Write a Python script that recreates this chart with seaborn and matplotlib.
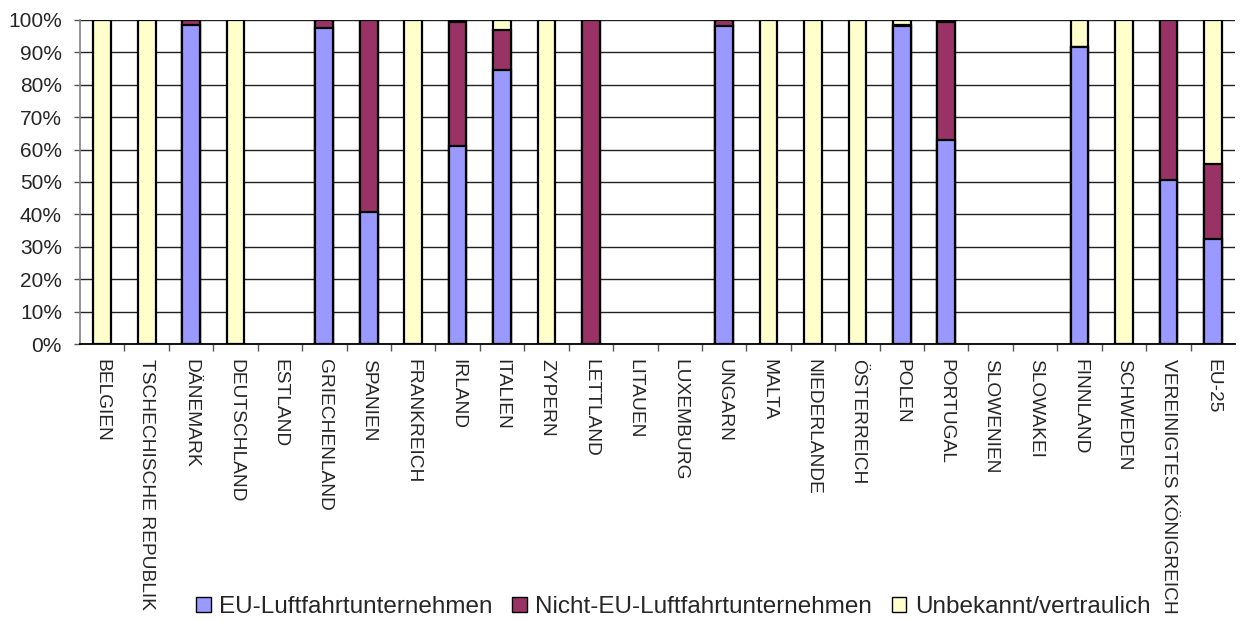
import numpy as np
import pandas as pd
import matplotlib
matplotlib.use("Agg")
import matplotlib.pyplot as plt
from matplotlib.patches import Patch
from matplotlib.ticker import FixedLocator, PercentFormatter
import seaborn as sns

countries = [
    "BELGIEN", "TSCHECHISCHE REPUBLIK", "DÄNEMARK", "DEUTSCHLAND", "ESTLAND",
    "GRIECHENLAND", "SPANIEN", "FRANKREICH", "IRLAND", "ITALIEN", "ZYPERN",
    "LETTLAND", "LITAUEN", "LUXEMBURG", "UNGARN", "MALTA", "NIEDERLANDE",
    "ÖSTERREICH", "POLEN", "PORTUGAL", "SLOWENIEN", "SLOWAKEI", "FINNLAND",
    "SCHWEDEN", "VEREINIGTES KÖNIGREICH", "EU-25",
]
eu_carriers = [0, 0, 98.5, 0, 0, 97.5, 40.7, 0, 61.1, 84.4, 0, 0, 0, 0, 98.1,
               0, 0, 0, 98.2, 62.9, 0, 0, 91.5, 0, 50.7, 32.4]
non_eu_carriers = [0, 0, 1.5, 0, 0, 2.5, 59.3, 0, 38.2, 12.5, 0, 100, 0, 0, 1.9,
                   0, 0, 0, 0.3, 36.4, 0, 0, 0, 0, 49.3, 23.2]
unknown = [100, 100, 0, 100, 0, 0, 0, 100, 0.7, 3.1, 100, 0, 0, 0, 0,
           100, 100, 100, 1.5, 0.7, 0, 0, 8.5, 100, 0, 44.4]

labels = ["EU-Luftfahrtunternehmen", "Nicht-EU-Luftfahrtunternehmen",
          "Unbekannt/vertraulich"]
colors = ["#9999FF", "#993366", "#FFFFCC"]

df = pd.DataFrame({
    "Land": countries,
    "eu": eu_carriers,
    "non_eu": non_eu_carriers,
    "unknown": unknown,
})
df["lvl1"] = df["eu"]
df["lvl2"] = df["eu"] + df["non_eu"]
df["lvl3"] = df["eu"] + df["non_eu"] + df["unknown"]
# countries without any reported share get no bar at all
for col in ["lvl1", "lvl2", "lvl3"]:
    df[col] = df[col].replace(0, np.nan)

sns.set_theme(style="white")
plt.rcParams["font.family"] = ["Liberation Sans", "DejaVu Sans"]

fig = plt.figure(figsize=(12.4, 6.21), dpi=100)
ax = fig.add_axes([0.0645, 0.446, 0.9315, 0.522])

# stacked bars: draw cumulative totals from the top segment downwards
for col, color in zip(["lvl3", "lvl2", "lvl1"], colors[::-1]):
    sns.barplot(data=df, x="Land", y=col, color=color, width=0.4,
                edgecolor="black", linewidth=1.6, saturation=1,
                errorbar=None, ax=ax, zorder=3)

ax.set_ylim(0, 100)
ax.set_xlim(-0.5, len(countries) - 0.5)
ax.set_yticks(np.arange(0, 101, 10))
ax.yaxis.set_major_formatter(PercentFormatter(decimals=0))
ax.grid(axis="y", color="#222222", linewidth=1.0, zorder=0)
ax.grid(axis="x", visible=False)
ax.set_xlabel("")
ax.set_ylabel("")

for side in ["top", "right"]:
    ax.spines[side].set_visible(False)
ax.spines["left"].set_color("#808080")
ax.spines["left"].set_linewidth(1.2)
ax.spines["bottom"].set_color("black")
ax.spines["bottom"].set_linewidth(1.3)
ax.spines["bottom"].set_zorder(4)

ax.set_xticks(range(len(countries)))
ax.set_xticklabels(countries, rotation=270, ha="center", va="top",
                   fontsize=13.8)
ax.tick_params(axis="x", which="major", length=0, pad=11)
ax.xaxis.set_minor_locator(FixedLocator(np.arange(0.5, len(countries) - 0.5, 1)))
ax.tick_params(axis="x", which="minor", bottom=True, length=5, width=1,
               color="#555555", direction="out")
ax.tick_params(axis="y", which="major", left=True, length=4, width=1,
               color="#555555", labelsize=15, pad=9)

handles = [Patch(facecolor=c, edgecolor="black", linewidth=1.0) for c in colors]
fig.legend(handles, labels, loc="center", bbox_to_anchor=(0.543, 0.022),
           ncol=3, frameon=False, fontsize=17.5, handlelength=0.6,
           handleheight=0.6, handletextpad=0.35, columnspacing=0.8)

fig.savefig("out.png", dpi=100)
